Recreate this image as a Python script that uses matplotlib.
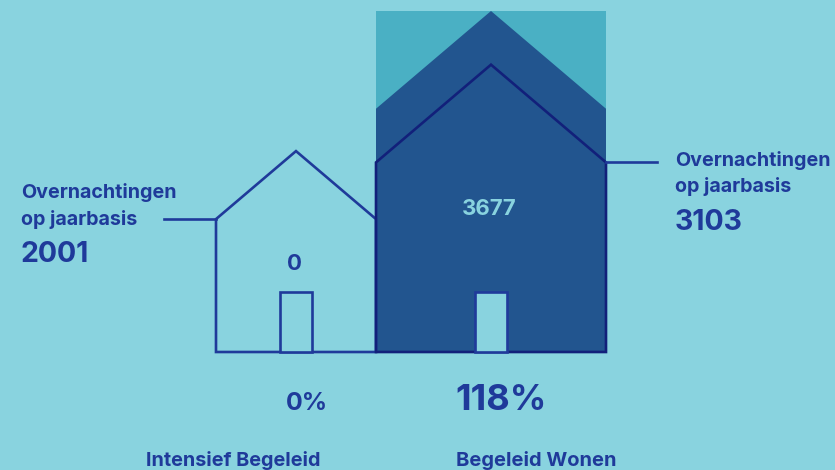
import matplotlib
matplotlib.use("Agg")
import matplotlib.pyplot as plt
from matplotlib.patches import Polygon, Rectangle

plt.rcParams["font.family"] = ["Inter", "DejaVu Sans"]

# Data
categories = ["Intensief Begeleid", "Begeleid Wonen"]
overnachtingen = [2001, 3103]
gerealiseerd = [0, 3677]
percentages = ["0%", "118%"]
label_lines = ["Overnachtingen", "op jaarbasis"]

# Layout in pixels
BG = "#89d3df"
TEAL = "#4ab0c4"
FILL = "#22558f"
LINE = "#1f3a9a"
LINE_DARK = "#12207a"
BASE = 352
ROOF_SLOPE = 0.85
left_edges = [216, 376]
widths = [160, 230]
px_per_night = [0.1004, 0.0926]
door_left = [280, 475]
DOOR_W, DOOR_H = 32, 60
FILL_TOP = 11
LW = 1.9


def house(x, w, top):
    """Punten van een huis met de nok op hoogte top"""
    eave = top + ROOF_SLOPE * w / 2
    return [(x, BASE), (x, eave), (x + w / 2, top), (x + w, eave), (x + w, BASE)]


fig = plt.figure(figsize=(8.35, 4.7), dpi=100, facecolor=BG)
ax = fig.add_axes([0, 0, 1, 1])
ax.set_xlim(0, 835)
ax.set_ylim(470, 0)
ax.axis("off")

for i in range(2):
    x, w = left_edges[i], widths[i]
    top = BASE - overnachtingen[i] * px_per_night[i]
    if gerealiseerd[i] > 0:
        fill_h = gerealiseerd[i] * (BASE - FILL_TOP) / max(gerealiseerd)
        ax.add_patch(Rectangle((x, FILL_TOP), w, BASE - FILL_TOP, fc=TEAL, ec="none", zorder=1))
        ax.add_patch(Polygon(house(x, w, BASE - fill_h), closed=True, fc=FILL, ec="none", zorder=2))
    color = LINE_DARK if gerealiseerd[i] > 0 else LINE
    pts = house(x, w, top)
    ax.add_patch(Polygon(pts, closed=True, fc="none", ec=color, lw=LW,
                         joinstyle="miter", zorder=3))
    ax.add_patch(Rectangle((door_left[i], BASE - DOOR_H), DOOR_W, DOOR_H, fc=BG,
                           ec=LINE, lw=LW, zorder=4))

# Leader lines
eave_l = BASE - overnachtingen[0] * px_per_night[0] + ROOF_SLOPE * widths[0] / 2
eave_r = BASE - overnachtingen[1] * px_per_night[1] + ROOF_SLOPE * widths[1] / 2
ax.plot([164, left_edges[0]], [eave_l, eave_l], color=LINE, lw=LW, zorder=3)
ax.plot([left_edges[1] + widths[1], 657], [eave_r, eave_r], color=LINE, lw=LW, zorder=3)

# Labels
bold = dict(fontweight="bold", color=LINE, va="center")
ax.text(21, 192, label_lines[0], fontsize=14.2, ha="left", **bold)
ax.text(21, 219.5, label_lines[1], fontsize=14.2, ha="left", **bold)
ax.text(21, 254, str(overnachtingen[0]), fontsize=20.5, ha="left", **bold)
ax.text(675, 161, label_lines[0], fontsize=14.2, ha="left", **bold)
ax.text(675, 187, label_lines[1], fontsize=14.2, ha="left", **bold)
ax.text(675, 223, str(overnachtingen[1]), fontsize=20.5, ha="left", **bold)

ax.text(295, 264, str(gerealiseerd[0]), fontsize=16, ha="center", **bold)
ax.text(489, 209, str(gerealiseerd[1]), fontsize=16, ha="center", fontweight="bold",
        color=BG, va="center", zorder=5)

ax.text(307, 403, percentages[0], fontsize=18, ha="center", **bold)
ax.text(501, 400, percentages[1], fontsize=26, ha="center", **bold)

ax.text(233, 460, categories[0], fontsize=14.3, ha="center", **bold)
ax.text(536, 460, categories[1], fontsize=14.5, ha="center", **bold)

fig.savefig("out.png", dpi=100, facecolor=BG)
